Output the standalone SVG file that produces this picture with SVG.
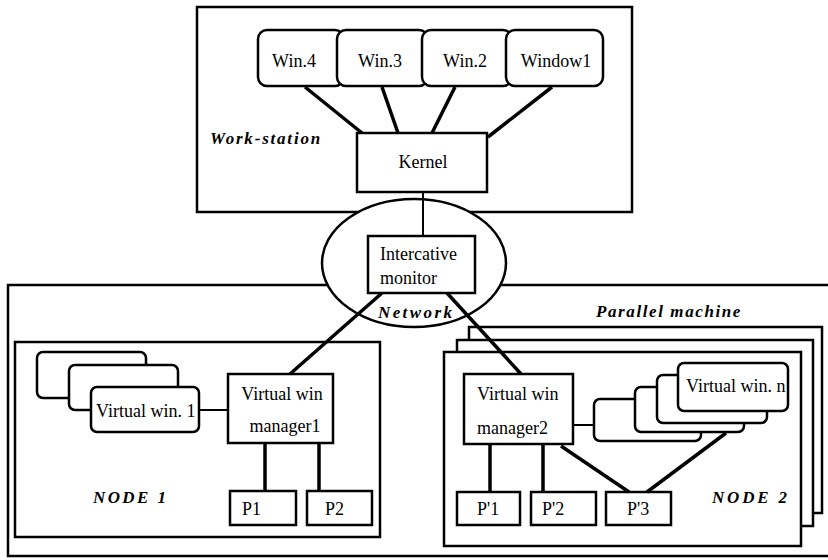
<svg xmlns="http://www.w3.org/2000/svg" width="828" height="560" viewBox="0 0 828 560">
  <style>
    .box { fill: #fff; stroke: #000; stroke-width: 2.5; }
    .win { fill: #fff; stroke: #000; stroke-width: 2.5; }
    .frame { fill: none; stroke: #000; stroke-width: 2.5; }
    .t { font-family: 'Liberation Serif', 'DejaVu Serif', serif; font-size: 18px; fill: #000; }
    .m { text-anchor: middle; }
    .lbl { font-family: 'Liberation Serif', 'DejaVu Serif', serif; font-size: 17px; font-weight: bold; font-style: italic; fill: #000; }
    .link { stroke: #000; stroke-width: 3.5; fill: none; stroke-linecap: butt; }
    .thin { stroke: #000; stroke-width: 2; fill: none; }
  </style>
  <defs>
    <clipPath id="vwnClip">
      <rect x="679" y="364" width="107" height="46"/>
    </clipPath>
  </defs>
  <rect width="828" height="560" fill="#fff"/>

  <!-- Work-station frame -->
  <g id="workstation">
    <rect class="frame" x="197" y="7" width="435" height="205"/>
    <text class="lbl" x="210" y="144" letter-spacing="1.8">Work-station</text>
  </g>

  <!-- Windows on the work-station, back to front -->
  <g id="win4">
    <rect class="win" x="258" y="30" width="86" height="56" rx="9"/>
    <text class="t m" x="294" y="67">Win.4</text>
  </g>
  <g id="win3">
    <rect class="win" x="337" y="30" width="91" height="56" rx="9"/>
    <text class="t m" x="380" y="67">Win.3</text>
  </g>
  <g id="win2">
    <rect class="win" x="422" y="30" width="90" height="56" rx="9"/>
    <text class="t m" x="465" y="67">Win.2</text>
  </g>
  <g id="window1">
    <rect class="win" x="506" y="30" width="97" height="56" rx="9"/>
    <text class="t m" x="556" y="67">Window1</text>
  </g>
  <g id="kernel">
    <rect class="box" x="357" y="133" width="130" height="59"/>
    <text class="t m" x="423" y="168" font-size="17">Kernel</text>
  </g>

  <!-- Parallel machine frame -->
  <g id="parallel-machine">
    <rect class="frame" x="8" y="285" width="830" height="271"/>
    <text class="lbl" x="596" y="317" letter-spacing="1.6">Parallel  machine</text>
  </g>

  <!-- Network and interactive monitor -->
  <g id="network">
    <ellipse class="box" cx="414" cy="263" rx="92" ry="64"/>
    <text class="lbl" x="378" y="318" letter-spacing="2.4">Network</text>
  </g>
  <g id="monitor">
    <rect class="box" x="368" y="236" width="107" height="57"/>
    <text class="t" x="380" y="260">Intercative</text>
    <text class="t" x="380" y="284">monitor</text>
  </g>

  <!-- Node 1 -->
  <g id="node1">
    <rect class="frame" x="15" y="342" width="365" height="195"/>
    <text class="lbl" x="93" y="503" letter-spacing="2.4">NODE  1</text>
  </g>
  <g id="vwin1">
    <rect class="win" x="37" y="352" width="109" height="46" rx="6"/>
    <rect class="win" x="69" y="365" width="109" height="45" rx="6"/>
    <rect class="win" x="91" y="387" width="108" height="45" rx="6"/>
    <text class="t" x="96" y="417">Virtual win. 1</text>
  </g>
  <g id="manager1">
    <rect class="box" x="228" y="374" width="105" height="69"/>
    <text class="t m" x="282" y="400">Virtual win</text>
    <text class="t m" x="285" y="432">manager1</text>
  </g>
  <g id="p1">
    <rect class="box" x="230" y="491" width="66" height="34"/>
    <text class="t" x="242" y="515">P1</text>
  </g>
  <g id="p2">
    <rect class="box" x="307" y="491" width="65" height="34"/>
    <text class="t" x="325" y="515">P2</text>
  </g>

  <!-- Node 2 with stacked sibling nodes -->
  <g id="node2">
    <rect class="box" x="469" y="327" width="353" height="186"/>
    <rect class="box" x="457" y="340" width="356" height="186"/>
    <rect class="box" x="444" y="352" width="357" height="194"/>
    <text class="lbl" x="712" y="503" letter-spacing="2.8">NODE  2</text>
  </g>
  <g id="manager2">
    <rect class="box" x="464" y="374" width="109" height="70"/>
    <text class="t" x="477" y="400">Virtual win</text>
    <text class="t" x="477" y="434">manager2</text>
  </g>
  <g id="vwinn">
    <rect class="win" x="594" y="399" width="107" height="42" rx="6"/>
    <rect class="win" x="635" y="387" width="109" height="45" rx="6"/>
    <rect class="win" x="657" y="375" width="110" height="48" rx="6"/>
    <rect class="win" x="678" y="363" width="110" height="48" rx="6"/>
    <text class="t" x="686" y="392" clip-path="url(#vwnClip)">Virtual win. n</text>
  </g>
  <g id="pp1">
    <rect class="box" x="457" y="492" width="63" height="33"/>
    <text class="t" x="477" y="515">P'1</text>
  </g>
  <g id="pp2">
    <rect class="box" x="531" y="492" width="65" height="33"/>
    <text class="t" x="542" y="515">P'2</text>
  </g>
  <g id="pp3">
    <rect class="box" x="606" y="492" width="65" height="33"/>
    <text class="t" x="627" y="515">P'3</text>
  </g>

  <!-- Connectors -->
  <g id="connectors">
    <line class="link" x1="305" y1="87" x2="362" y2="133"/>
    <line class="link" x1="382" y1="87" x2="398" y2="133"/>
    <line class="link" x1="455" y1="87" x2="432" y2="133"/>
    <line class="link" x1="552" y1="87" x2="488" y2="137"/>
    <line class="thin" x1="423" y1="192" x2="423" y2="236"/>
    <line class="link" x1="382" y1="293" x2="290" y2="374"/>
    <line class="link" x1="447" y1="293" x2="521" y2="374"/>
    <line class="thin" x1="199" y1="410" x2="228" y2="410"/>
    <line class="link" x1="265" y1="443" x2="265" y2="491"/>
    <line class="link" x1="319" y1="443" x2="319" y2="491"/>
    <line class="thin" x1="573" y1="425" x2="594" y2="425"/>
    <line class="link" x1="490" y1="444" x2="490" y2="492"/>
    <line class="link" x1="543" y1="444" x2="543" y2="492"/>
    <line class="link" x1="561" y1="446" x2="629" y2="492"/>
    <line class="link" x1="726" y1="433" x2="647" y2="492"/>
  </g>
</svg>
